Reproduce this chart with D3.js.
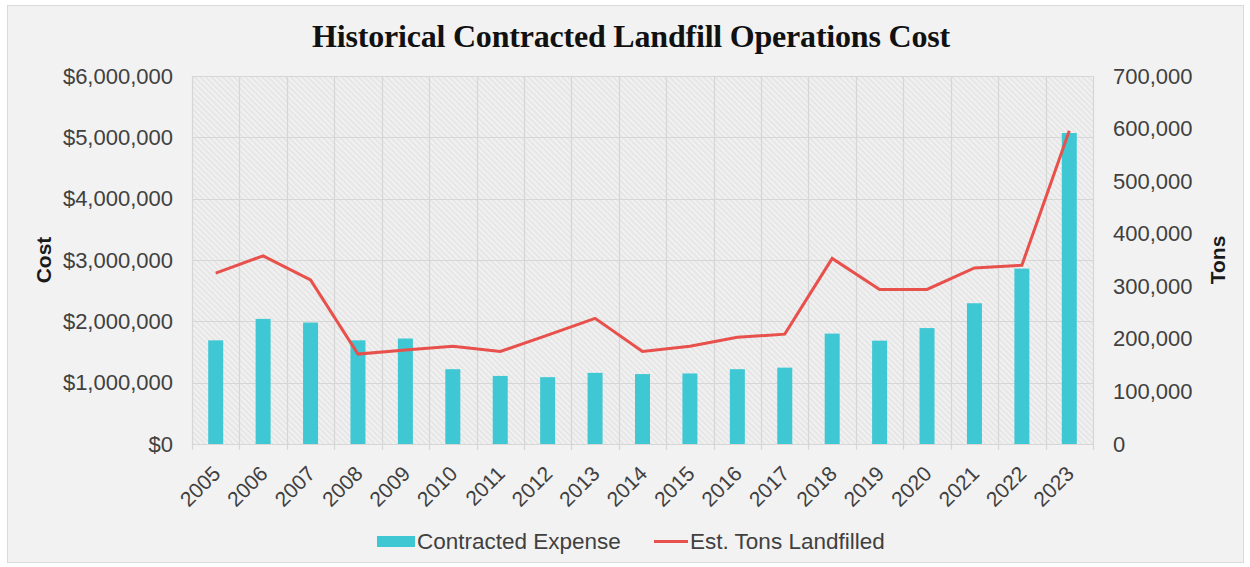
<!DOCTYPE html>
<html>
<head>
<meta charset="utf-8">
<script src="https://cdn.jsdelivr.net/npm/d3@7"></script>
<style>
  html, body { margin: 0; padding: 0; background: #ffffff; }
  svg { display: block; }
</style>
</head>
<body>
<svg id="chart" width="1250" height="567"></svg>
<script>
// Fiscal years shown on the category axis
const years = ["2005","2006","2007","2008","2009","2010","2011","2012","2013","2014",
               "2015","2016","2017","2018","2019","2020","2021","2022","2023"];

// Contracted landfill operations expense (USD)
const contractedExpense = [1690000, 2040000, 1980000, 1690000, 1720000, 1220000, 1110000, 1090000, 1160000, 1140000,
                           1150000, 1220000, 1245000, 1800000, 1685000, 1890000, 2295000, 2860000, 5070000];

// Estimated tons landfilled
const tonsLandfilled = [325000, 358000, 312000, 171000, 179000, 186000, 176000, 207000, 239000, 176000,
                        186000, 203000, 209000, 353000, 294000, 294000, 335000, 340000, 596000];

// Axis tick values
const costTicks = [0, 1000000, 2000000, 3000000, 4000000, 5000000, 6000000];
const tonTicks = [0, 100000, 200000, 300000, 400000, 500000, 600000, 700000];

const svg = d3.select("#chart");
const plot = { left: 192, right: 1093, top: 76, bottom: 444 };
const font = "'Liberation Sans', Arial, sans-serif";

// Outer chart panel
svg.append("rect")
  .attr("x", 7.5).attr("y", 5.5).attr("width", 1236).attr("height", 557)
  .attr("fill", "#f2f2f2").attr("stroke", "#dadada").attr("stroke-width", 1);

// Diagonal hatch for the plot background
const defs = svg.append("defs");
const pat = defs.append("pattern")
  .attr("id", "hatch").attr("patternUnits", "userSpaceOnUse")
  .attr("width", 4).attr("height", 4)
  .attr("patternTransform", "rotate(-45)");
pat.append("rect").attr("width", 4).attr("height", 4).attr("fill", "#e6e6e6");
pat.append("line").attr("x1", 1).attr("y1", 0).attr("x2", 1).attr("y2", 4)
  .attr("stroke", "#f4f4f4").attr("stroke-width", 1.6);

const x = d3.scaleBand().domain(years).range([plot.left, plot.right]).paddingInner(0).paddingOuter(0);
const yCost = d3.scaleLinear().domain([0, 6000000]).range([plot.bottom, plot.top]);
const yTons = d3.scaleLinear().domain([0, 700000]).range([plot.bottom, plot.top]);

svg.append("rect")
  .attr("x", plot.left).attr("y", plot.top)
  .attr("width", plot.right - plot.left).attr("height", plot.bottom - plot.top)
  .attr("fill", "url(#hatch)");

// Horizontal gridlines
svg.append("g").selectAll("line").data(costTicks).join("line")
  .attr("x1", plot.left).attr("x2", plot.right)
  .attr("y1", d => Math.round(yCost(d)) + 0.5).attr("y2", d => Math.round(yCost(d)) + 0.5)
  .attr("stroke", "#d6d6d6").attr("stroke-width", 1.2);

// Vertical gridlines at category boundaries, extending below as tick marks
const bounds = years.map(y => x(y)).concat([plot.right]);
svg.append("g").selectAll("line").data(bounds).join("line")
  .attr("x1", d => Math.round(d) + 0.5).attr("x2", d => Math.round(d) + 0.5)
  .attr("y1", plot.top).attr("y2", plot.bottom + 6)
  .attr("stroke", "#d6d6d6").attr("stroke-width", 1.2);

// Bars
const barW = 15;
svg.append("g").selectAll("rect").data(years).join("rect")
  .attr("x", d => x(d) + x.bandwidth() / 2 - barW / 2)
  .attr("y", (d, i) => yCost(contractedExpense[i]))
  .attr("width", barW)
  .attr("height", (d, i) => plot.bottom - yCost(contractedExpense[i]))
  .attr("fill", "#3fc8d3");

// Tons line
const line = d3.line()
  .x((d, i) => x(years[i]) + x.bandwidth() / 2)
  .y(d => yTons(d));
svg.append("path").datum(tonsLandfilled)
  .attr("d", line)
  .attr("fill", "none").attr("stroke", "#e8504b").attr("stroke-width", 3)
  .attr("stroke-linejoin", "miter");

// Left axis
const leftAxis = d3.axisLeft(yCost).tickValues(costTicks)
  .tickFormat(d => "$" + d3.format(",")(d)).tickSize(0).tickPadding(0);
const gl = svg.append("g").attr("transform", `translate(${plot.left - 19},0)`).call(leftAxis);
gl.select(".domain").remove();
gl.selectAll("text").attr("font-family", font).attr("font-size", 22).attr("fill", "#404040");

// Right axis
const rightAxis = d3.axisRight(yTons).tickValues(tonTicks)
  .tickFormat(d3.format(",")).tickSize(0).tickPadding(0);
const gr = svg.append("g").attr("transform", `translate(${plot.right + 20},0)`).call(rightAxis);
gr.select(".domain").remove();
gr.selectAll("text").attr("font-family", font).attr("font-size", 22).attr("fill", "#404040");

// Category axis labels, rotated
const xAxis = d3.axisBottom(x).tickSize(0).tickPadding(0);
const gx = svg.append("g").attr("transform", `translate(0,${plot.bottom})`).call(xAxis);
gx.select(".domain").remove();
gx.selectAll("text")
  .attr("font-family", font).attr("font-size", 21).attr("fill", "#404040")
  .attr("text-anchor", "end").attr("dy", 0).attr("y", 0)
  .attr("transform", "translate(6,31) rotate(-45)");

// Axis titles
svg.append("text")
  .attr("transform", "translate(51,260) rotate(-90)")
  .attr("text-anchor", "middle")
  .attr("font-family", font).attr("font-size", 21).attr("font-weight", "bold").attr("fill", "#1a1a1a")
  .text("Cost");
svg.append("text")
  .attr("transform", "translate(1225,260) rotate(-90)")
  .attr("text-anchor", "middle")
  .attr("font-family", font).attr("font-size", 21).attr("font-weight", "bold").attr("fill", "#1a1a1a")
  .text("Tons");

// Title
svg.append("text")
  .attr("x", 631).attr("y", 47)
  .attr("text-anchor", "middle")
  .attr("font-family", "'Liberation Serif', 'DejaVu Serif', serif")
  .attr("font-size", 32).attr("font-weight", "bold").attr("fill", "#111")
  .attr("letter-spacing", -0.2)
  .text("Historical Contracted Landfill Operations Cost");

// Legend
const lg = svg.append("g").attr("font-family", font).attr("font-size", 22.5).attr("fill", "#404040");
lg.append("rect").attr("x", 377).attr("y", 536).attr("width", 38).attr("height", 11).attr("fill", "#3fc8d3");
lg.append("text").attr("x", 417).attr("y", 549).text("Contracted Expense");
lg.append("line").attr("x1", 654).attr("x2", 688).attr("y1", 541.5).attr("y2", 541.5)
  .attr("stroke", "#e8504b").attr("stroke-width", 3);
lg.append("text").attr("x", 690).attr("y", 549).text("Est. Tons Landfilled");
</script>
</body>
</html>
